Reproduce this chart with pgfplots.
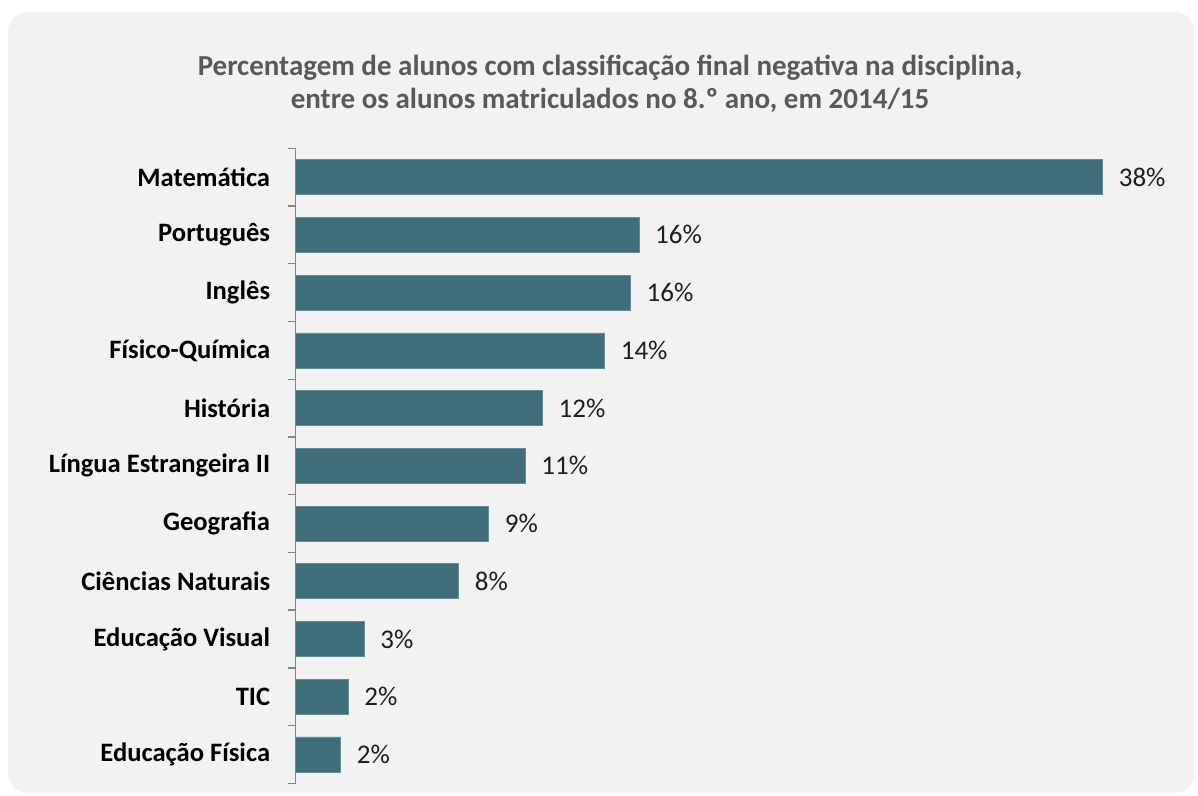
\documentclass[border=0pt]{standalone}
\usepackage{pgfplots}
\pgfplotsset{compat=1.18}
\usepackage{pgfplotstable}
\usepackage{fontspec}
\setmainfont{Carlito}
\definecolor{barcol}{RGB}{63,110,122}
\definecolor{bgcol}{RGB}{242,242,242}
\definecolor{titlegray}{RGB}{89,89,89}
\definecolor{axisgray}{RGB}{134,134,134}
\definecolor{labcol}{RGB}{30,30,30}
\pgfplotstableread{
idx value
0 37.6
1 16.0
2 15.6
3 14.4
4 11.5
5 10.7
6 9.0
7 7.6
8 3.2
9 2.45
10 2.1
}\datatable
\begin{document}
\begin{tikzpicture}
\path (0,0) rectangle (599pt,398pt);
\fill[bgcol, rounded corners=10pt] (4pt,1.5pt) rectangle (597.5pt,392pt);
\node[anchor=base, text=titlegray, font=\fontsize{14.5}{17}\selectfont\bfseries, inner sep=0pt] at (305pt,360pt) {Percentagem de alunos com classificação final negativa na disciplina,};
\node[anchor=base, text=titlegray, font=\fontsize{14.5}{17}\selectfont\bfseries, inner sep=0pt] at (305pt,343.5pt) {entre os alunos matriculados no 8.º ano, em 2014/15};
\begin{axis}[
  at={(147.75pt,6.35pt)}, anchor=south west,
  scale only axis, width=403.5pt, height=317.5pt,
  xmin=0, xmax=37.6, ymin=-0.5, ymax=10.5,
  y dir=reverse, clip=false,
  xbar, bar width=17.5pt,
  axis x line=none, axis y line*=left,
  y axis line style={draw=axisgray, line width=0.7pt},
  ytick={0,...,10},
  yticklabels={Matemática, Português, Inglês, Físico-Química, História, Língua Estrangeira II, Geografia, Ciências Naturais, Educação Visual, TIC, Educação Física},
  major tick length=0pt,
  minor ytick={-0.5,0.5,...,10.5},
  minor tick length=3.5pt,
  tick align=outside,
  minor tick style={draw=axisgray, line width=0.7pt},
  yticklabel style={font=\fontsize{13.3}{16}\selectfont\bfseries, text=black, inner sep=0pt, xshift=-12.5pt, anchor=east},
  point meta=x,
  nodes near coords={\pgfmathprintnumber[fixed,precision=0,assume math mode=true]{\pgfplotspointmeta}\%},
  nodes near coords style={anchor=west, inner sep=0pt, xshift=8pt, font=\fontsize{13.5}{16}\selectfont, text=labcol},
]
\addplot[fill=barcol, draw=barcol!80!white, line width=0.3pt] table[x=value, y=idx] {\datatable};
\end{axis}
\end{tikzpicture}
\end{document}
